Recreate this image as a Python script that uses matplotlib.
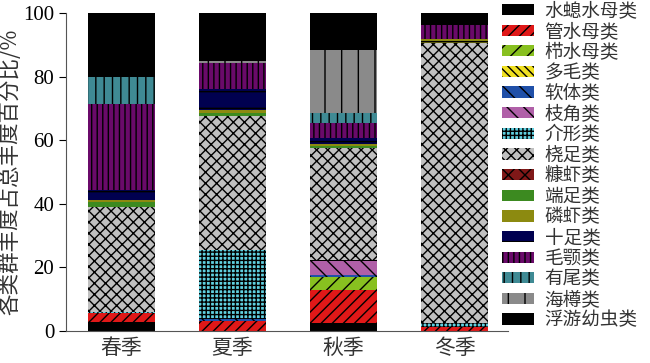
import matplotlib
matplotlib.use("Agg")
import matplotlib.pyplot as plt
import numpy as np

plt.rcParams['font.family'] = ['Liberation Serif', 'Noto Sans CJK SC']
plt.rcParams['hatch.linewidth'] = 1.0

seasons = ["春季", "夏季", "秋季", "冬季"]
groups = ["水螅水母类", "管水母类", "栉水母类", "多毛类", "软体类", "枝角类", "介形类",
          "桡足类", "糠虾类", "端足类", "磷虾类", "十足类", "毛颚类", "有尾类",
          "海樽类", "浮游幼虫类"]

# percentages per group, one value per season (春, 夏, 秋, 冬)
shuixi = [2.9, 0.0, 2.6, 0.0]
guan = [2.9, 3.1, 10.3, 1.2]
zhi = [0.0, 0.0, 4.1, 0.0]
duomao = [0.0, 0.0, 0.0, 0.0]
ruanti = [0.0, 0.6, 0.6, 0.0]
zhijiao = [0.0, 0.0, 4.4, 0.0]
jiexing = [0.3, 21.8, 0.3, 1.2]
raozu = [33.0, 42.1, 35.3, 88.1]
kangxia = [0.0, 0.0, 0.0, 0.0]
duanzu = [1.4, 1.0, 0.6, 0.0]
linxia = [0.8, 0.9, 0.6, 1.3]
shizu = [3.0, 6.5, 1.8, 0.0]
maoe = [27.2, 8.4, 4.9, 4.4]
youwei = [8.5, 0.0, 3.0, 0.0]
haizun = [0.0, 0.5, 19.9, 0.0]
youchong = [20.0, 15.1, 11.6, 3.8]

values = [shuixi, guan, zhi, duomao, ruanti, zhijiao, jiexing, raozu, kangxia,
          duanzu, linxia, shizu, maoe, youwei, haizun, youchong]

colors = ["#000000", "#e01818", "#88c020", "#f0e020", "#2050a8", "#b060a8",
          "#60d0e0", "#c0c0c0", "#801818", "#3c8a20", "#8c8a10", "#000050",
          "#6a0a6a", "#3f8a94", "#8a8a8a", "#000000"]
hatches = ["", "///", "//", "\\\\\\\\", "\\\\", "\\\\", "++++", "xxx", "xx",
           "=", "-", "-", "|||", "||", "|", ""]

fig = plt.figure(figsize=(6.5, 3.63), dpi=100)
ax = fig.add_axes([0.1015, 0.088, 0.68, 0.876])

x = np.arange(len(seasons))
bottom = np.zeros(len(seasons))
for name, vals, c, h in zip(groups, values, colors, hatches):
    ax.bar(x, vals, width=0.6, bottom=bottom, color=c, hatch=h,
           edgecolor="black", linewidth=0, label=name)
    bottom += np.array(vals)

ax.set_xlim(-0.5, 3.48)
ax.set_ylim(0, 100)
ax.set_yticks([0, 20, 40, 60, 80, 100])
ax.set_xticks(x)
ax.set_xticklabels(seasons, fontsize=15, family=['Noto Sans CJK SC'], color='#333333')
ax.tick_params(axis='y', labelsize=15, direction='out', length=5)
ax.tick_params(axis='x', length=0, pad=4)
ax.spines['top'].set_visible(False)
ax.spines['right'].set_visible(False)
ax.spines['left'].set_color('#555555')
ax.spines['bottom'].set_color('#555555')
ax.set_ylabel("各类群丰度占总丰度百分比/%", fontsize=15.5, color='#333333',
              family=['Noto Sans CJK SC', 'Liberation Serif'], labelpad=1)

handles, labels = ax.get_legend_handles_labels()
leg = fig.legend(handles, labels, loc='upper left', bbox_to_anchor=(0.772, 0.994),
                 frameon=False, handlelength=1.75, handleheight=0.55,
                 labelspacing=0.14, handletextpad=0.55, borderaxespad=0.0,
                 borderpad=0.0,
                 prop={'family': ['Noto Sans CJK SC'], 'size': 13.4})
for t in leg.get_texts():
    t.set_color('#333333')

fig.savefig("out.png", dpi=100)
